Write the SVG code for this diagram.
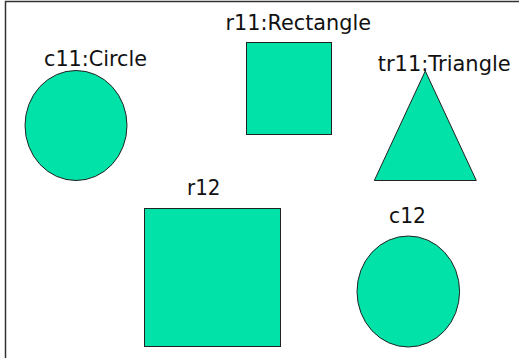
<svg xmlns="http://www.w3.org/2000/svg" width="519" height="358" viewBox="0 0 519 358">
<style>
.shape{fill:#00E2A8;stroke:#222;stroke-width:1}
.lbl{font-family:"DejaVu Sans",Verdana,sans-serif;font-size:21.5px;fill:#111}
</style>
<rect x="0" y="0" width="519" height="358" fill="#fff"/>
<g id="frame"><path d="M5.5 358 V1.5 H519" fill="none" stroke="#333" stroke-width="1.5"/></g>
<g id="connectors"></g>
<g id="c11">
<ellipse class="shape" cx="76" cy="125.5" rx="51" ry="55"/>
<text class="lbl" x="44" y="65.5" textLength="103" lengthAdjust="spacingAndGlyphs">c11:Circle</text>
</g>
<g id="r11">
<rect class="shape" x="246.5" y="42.5" width="85" height="92"/>
<text class="lbl" x="225.5" y="29.5" textLength="145.5" lengthAdjust="spacingAndGlyphs">r11:Rectangle</text>
</g>
<g id="tr11">
<polygon class="shape" points="425.3,71 374.3,180.5 476.3,180.5"/>
<text class="lbl" x="377.7" y="70.5" textLength="133" lengthAdjust="spacingAndGlyphs">tr11:Triangle</text>
</g>
<g id="r12">
<rect class="shape" x="144.5" y="208.5" width="136" height="138"/>
<text class="lbl" x="187" y="195" textLength="33.5" lengthAdjust="spacingAndGlyphs">r12</text>
</g>
<g id="c12">
<ellipse class="shape" cx="408.3" cy="291.5" rx="51.3" ry="55.5"/>
<text class="lbl" x="389" y="223.3" textLength="37" lengthAdjust="spacingAndGlyphs">c12</text>
</g>
</svg>
